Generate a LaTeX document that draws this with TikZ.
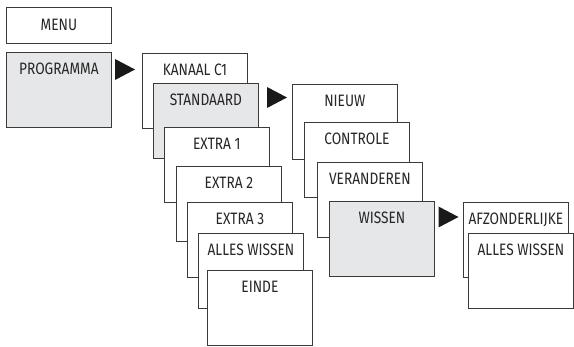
\documentclass[tikz,border=0pt]{standalone}
\usepackage{fontspec}
\setmainfont{Fira Sans}[FakeStretch=0.83]
\usetikzlibrary{positioning}

\definecolor{schermgrijs}{HTML}{E6E7E9}
\definecolor{lijn}{HTML}{3A3A3A}

\tikzset{
  scherm/.style={draw=lijn, line width=0.8pt, fill=white, anchor=north west,
    minimum width=105pt, inner xsep=0pt, inner ysep=0pt,
    text height=22pt, text depth=53pt, text=black!85,
    font=\fontsize{16.5}{18}\selectfont},
  actief/.style={scherm, fill=schermgrijs},
  kop/.style={draw=lijn, line width=0.8pt, fill=white, anchor=north west,
    minimum width=105pt, minimum height=36pt, inner sep=0pt, text=black!85,
    font=\fontsize{16.5}{18}\selectfont}
}

% driehoekje tussen de schermen
\newcommand{\pijl}[1]{\fill[black!90] (#1) ++(-10,-10.5) -- ++(0,21) -- ++(20,-10.5) -- cycle;}

\begin{document}
\begin{tikzpicture}[x=1pt,y=-1pt]
	\useasboundingbox (0,0) rectangle (574,347);
	%menu
	\node[kop] at (6,7) (menu) {MENU};
	\node[actief] at (6,52) (programma) {PROGRAMMA};
	\pijl{125,69.5}
	%kanaal
	\node[scherm] at (142,53) (kanaal) {KANAAL C1};
	\node[actief] at (153,83) (standaard) {STANDAARD};
	\node[scherm] at (164,127) (extraeen) {EXTRA 1};
	\node[scherm] at (176,166) (extratwee) {EXTRA 2};
	\node[scherm] at (187,202) (extradrie) {EXTRA 3};
	\node[scherm] at (198,233) (alleswissen) {ALLES WISSEN};
	\node[scherm] at (207,270) (einde) {EINDE};
	\pijl{277,97.5}
	%standaard
	\node[scherm] at (292,84) (nieuw) {NIEUW};
	\node[scherm] at (304,122) (controle) {CONTROLE};
	\node[scherm] at (317,162) (veranderen) {VERANDEREN};
	\node[actief] at (329,201) (wissen) {WISSEN};
	\pijl{448.5,217}
	%wissen
	\node[scherm] at (463,202) (afzonderlijk) {AFZONDERLIJKE};
	\node[scherm] at (468,233) (allesweg) {ALLES WISSEN};
\end{tikzpicture}
\end{document}
